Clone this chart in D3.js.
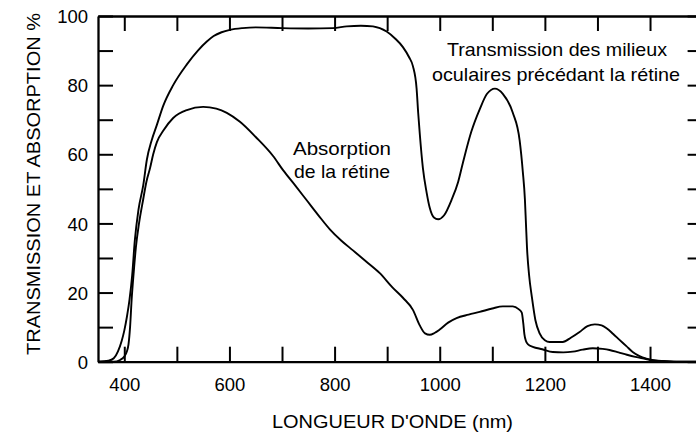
<!DOCTYPE html>
<html><head><meta charset="utf-8">
<script src="https://cdn.jsdelivr.net/npm/d3@7"></script>
<style>
html,body{margin:0;padding:0;background:#fff;}
svg{display:block;font-family:"Liberation Sans",Arial,Helvetica,sans-serif;}
</style></head>
<body>
<svg id="chart" width="696" height="432"></svg>
<script>
// ---- data ----
const transWl = [350,370,380,388,395,400,405,410,415,420,427,436,443,452,462,474,493,519,540,557,570,585,601,625,650,700,750,797,823,850,873,899,915,930,942,949,956,959,962,968,975,981,989,997,1008,1023,1035,1044,1060,1076,1090,1105,1120,1139,1152,1158,1162,1164,1166,1170,1175,1182,1190,1200,1209,1234,1250,1266,1281,1295,1308,1318,1330,1342,1355,1367,1380,1393,1410,1424,1450,1500];
const transVal = [0,0.3,1,3,6,9,13,18,25,35,44,51,58.5,64,68.5,74,80,86,90,92.6,94.2,95.3,96,96.5,96.7,96.5,96.4,96.5,97,97.2,97,95.5,93.5,91,88,85.5,79,72,66,56,49,44.5,41.7,41.2,42.3,47,52,57.5,66.5,73,77.5,79,77.5,72,64,55,47,40,33,25,19,12,8.2,6.2,5.7,5.7,7,8.6,10.3,10.8,10.5,9.6,8,6.3,4.5,2.8,1.6,0.9,0.4,0.2,0,0];
const absWl = [350,380,392,400,405,408,411,414,418,422,428,436,442,449,455,462,475,493,519,550,575,595,620,650,683,702,725,747,770,791,813,835,860,886,910,930,949,962,972,981,990,1000,1016,1032,1055,1076,1100,1120,1139,1150,1156,1159,1161,1164,1168,1177,1195,1215,1235,1253,1272,1291,1310,1323,1340,1356,1372,1386,1400,1420,1450,1500];
const absVal = [0,0,0.5,1.5,3,5,10,18,26,33,40,47,52,56,60,63.5,67,70.5,72.8,73.7,73.2,72,69.4,65,59.5,55.4,51,46.7,42.2,38.3,35,32.2,29,25.6,21.5,18.5,15,10.5,8.2,7.8,8.3,9.3,11.3,12.6,13.6,14.4,15.4,16,16,15.2,14.2,11,8,6,5,4.3,3.6,2.8,2.7,2.9,3.5,3.9,3.7,3.4,2.7,2,1.4,1,0.5,0.2,0,0];
const xTicks = [400,500,600,700,800,900,1000,1100,1200,1300,1400,1500];
const xTickLabels = ["400","600","800","1000","1200","1400"];
const yMajor = [0,20,40,60,80,100];
const yMinor = [10,30,50,70,90];
const xTitle = "LONGUEUR D'ONDE (nm)";
const yTitle = "TRANSMISSION ET ABSORPTION %";
const labelTrans = ["Transmission des milieux","oculaires précédant la rétine"];
const labelAbs = ["Absorption","de la rétine"];

// ---- layout ----
const svg = d3.select("#chart");
const x = d3.scaleLinear().domain([350,1500]).range([98,702.6]);
const y = d3.scaleLinear().domain([0,100]).range([361.7,16]);
const TK = 15;

function styleAxis(g){
  g.select(".domain").attr("stroke","#000").attr("stroke-width",2.3);
  g.selectAll(".tick line").attr("stroke","#000").attr("stroke-width",2);
  g.selectAll(".tick text").attr("fill","#000").attr("font-size","18.5px")
   .attr("font-family",'"Liberation Sans",Arial,sans-serif');
}

// left axis major + minor
const gl = svg.append("g").attr("transform",`translate(${x(350)},0)`)
  .call(d3.axisLeft(y).tickValues(yMajor).tickSize(-TK).tickSizeOuter(0).tickPadding(10).tickFormat(d3.format("d")));
styleAxis(gl);
gl.selectAll(".tick text").attr("dy","0.36em");
const glm = svg.append("g").attr("transform",`translate(${x(350)},0)`)
  .call(d3.axisLeft(y).tickValues(yMinor).tickSize(-TK).tickSizeOuter(0).tickFormat(""));
styleAxis(glm); glm.select(".domain").remove();

// right axis
const gr = svg.append("g").attr("transform",`translate(${x(1500)},0)`)
  .call(d3.axisRight(y).tickValues(yMajor.concat(yMinor)).tickSize(-TK).tickSizeOuter(0).tickFormat(""));
styleAxis(gr);

// bottom axis
const gb = svg.append("g").attr("transform",`translate(0,${y(0)})`)
  .call(d3.axisBottom(x).tickValues(xTicks).tickSize(-TK).tickSizeOuter(0).tickPadding(16)
    .tickFormat(d => xTickLabels.includes(String(d)) ? String(d) : ""));
styleAxis(gb);

// top axis
const gt = svg.append("g").attr("transform",`translate(0,${y(100)})`)
  .call(d3.axisTop(x).tickValues(xTicks).tickSize(-TK).tickSizeOuter(0).tickFormat(""));
styleAxis(gt);

// curves
const line = d3.line().x(d=>x(d[0])).y(d=>y(d[1])).curve(d3.curveMonotoneX);
svg.append("path").datum(transWl.map((w,i)=>[w,transVal[i]]))
  .attr("d",line).attr("fill","none").attr("stroke","#000").attr("stroke-width",1.9).attr("stroke-linejoin","round");
svg.append("path").datum(absWl.map((w,i)=>[w,absVal[i]]))
  .attr("d",line).attr("fill","none").attr("stroke","#000").attr("stroke-width",1.9).attr("stroke-linejoin","round");

// titles
function txt(s, tx, ty, fs, len, rot){
  const t = svg.append("text").text(s).attr("font-size",fs+"px").attr("fill","#000")
    .attr("text-anchor","middle").attr("textLength",len).attr("lengthAdjust","spacingAndGlyphs");
  if(rot) t.attr("transform",`translate(${tx},${ty}) rotate(-90)`);
  else t.attr("x",tx).attr("y",ty);
  return t;
}
txt(xTitle, 392.5, 428, 19, 241);
txt(yTitle, 40, 184, 19, 342, true);
txt(labelTrans[0], 557, 56, 19, 220);
txt(labelTrans[1], 556, 81, 19, 248);
txt(labelAbs[0], 342, 155, 18.5, 98);
txt(labelAbs[1], 342, 178, 18.5, 96);
</script>
</body></html>
